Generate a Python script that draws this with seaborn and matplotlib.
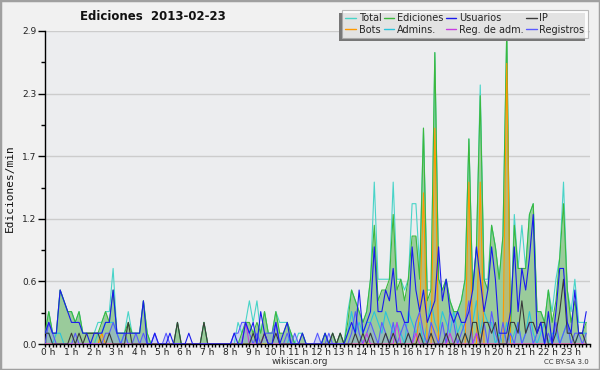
import numpy as np
import pandas as pd
import seaborn as sns
import matplotlib.pyplot as plt
from matplotlib.lines import Line2D
from matplotlib.patches import Rectangle
from matplotlib.ticker import MultipleLocator, AutoMinorLocator, FormatStrFormatter
from matplotlib.transforms import ScaledTranslation

# ediciones por minuto, una muestra cada 10 minutos (144 por día)
total = [
    0.1, 0.3, 0.1, 0.1, 0.5, 0.4, 0.3, 0.3, 0.2, 0.3, 0.1, 0.1,
    0.1, 0.1, 0.2, 0.2, 0.3, 0.3, 0.7, 0.1, 0.1, 0.1, 0.3, 0.1,
    0.1, 0.1, 0.4, 0.1, 0.0, 0.0, 0.0, 0.0, 0.0, 0.0, 0.0, 0.2,
    0.0, 0.0, 0.0, 0.0, 0.0, 0.0, 0.2, 0.0, 0.0, 0.0, 0.0, 0.0,
    0.0, 0.0, 0.0, 0.2, 0.1, 0.2, 0.4, 0.2, 0.4, 0.1, 0.3, 0.1,
    0.1, 0.3, 0.2, 0.2, 0.2, 0.1, 0.0, 0.1, 0.1, 0.0, 0.0, 0.0,
    0.0, 0.0, 0.1, 0.0, 0.1, 0.0, 0.1, 0.0, 0.3, 0.5, 0.4, 0.3,
    0.2, 0.3, 0.6, 1.5, 0.6, 0.6, 0.6, 0.6, 1.5, 0.6, 0.6, 0.5,
    0.6, 1.3, 1.3, 0.7, 2.0, 0.5, 0.5, 2.7, 0.6, 0.5, 0.6, 0.4,
    0.3, 0.3, 0.4, 0.6, 1.9, 0.5, 0.9, 2.4, 0.6, 0.6, 1.1, 0.9,
    0.6, 1.0, 2.9, 0.1, 1.2, 0.7, 1.1, 0.7, 1.2, 1.3, 0.3, 0.3,
    0.2, 0.5, 0.3, 0.6, 0.8, 1.5, 0.5, 0.3, 0.6, 0.2, 0.2, 0.2,
]
ediciones = [
    0.1, 0.3, 0.1, 0.1, 0.5, 0.4, 0.3, 0.3, 0.2, 0.3, 0.1, 0.1,
    0.1, 0.1, 0.1, 0.2, 0.3, 0.2, 0.5, 0.1, 0.1, 0.1, 0.2, 0.1,
    0.1, 0.1, 0.4, 0.1, 0.0, 0.0, 0.0, 0.0, 0.0, 0.0, 0.0, 0.2,
    0.0, 0.0, 0.0, 0.0, 0.0, 0.0, 0.2, 0.0, 0.0, 0.0, 0.0, 0.0,
    0.0, 0.0, 0.0, 0.0, 0.1, 0.2, 0.2, 0.1, 0.2, 0.1, 0.3, 0.1,
    0.1, 0.3, 0.1, 0.1, 0.2, 0.1, 0.0, 0.0, 0.1, 0.0, 0.0, 0.0,
    0.0, 0.0, 0.1, 0.0, 0.1, 0.0, 0.1, 0.0, 0.2, 0.5, 0.4, 0.3,
    0.2, 0.3, 0.6, 1.1, 0.4, 0.5, 0.5, 0.6, 1.2, 0.5, 0.6, 0.4,
    0.6, 1.0, 1.0, 0.6, 2.0, 0.4, 0.5, 2.7, 0.6, 0.5, 0.6, 0.4,
    0.3, 0.3, 0.4, 0.6, 1.9, 0.5, 0.9, 2.3, 0.6, 0.5, 1.1, 0.9,
    0.6, 1.0, 2.9, 0.1, 1.1, 0.7, 0.7, 0.7, 1.2, 1.3, 0.3, 0.3,
    0.2, 0.5, 0.2, 0.4, 0.8, 1.3, 0.5, 0.2, 0.4, 0.1, 0.1, 0.2,
]
usuarios = [
    0.1, 0.2, 0.1, 0.1, 0.5, 0.4, 0.3, 0.2, 0.2, 0.2, 0.1, 0.1,
    0.0, 0.1, 0.1, 0.1, 0.2, 0.2, 0.5, 0.1, 0.1, 0.1, 0.1, 0.1,
    0.1, 0.1, 0.4, 0.0, 0.0, 0.1, 0.0, 0.0, 0.0, 0.1, 0.0, 0.0,
    0.0, 0.0, 0.1, 0.0, 0.0, 0.0, 0.0, 0.0, 0.0, 0.0, 0.0, 0.0,
    0.0, 0.0, 0.1, 0.0, 0.0, 0.2, 0.1, 0.2, 0.0, 0.3, 0.1, 0.0,
    0.0, 0.2, 0.0, 0.1, 0.2, 0.0, 0.0, 0.0, 0.1, 0.0, 0.0, 0.0,
    0.0, 0.0, 0.1, 0.0, 0.0, 0.0, 0.0, 0.0, 0.1, 0.2, 0.1, 0.5,
    0.1, 0.2, 0.3, 0.9, 0.3, 0.3, 0.5, 0.4, 0.7, 0.3, 0.3, 0.2,
    0.2, 0.9, 0.5, 0.3, 0.5, 0.2, 0.3, 0.4, 0.9, 0.4, 0.6, 0.3,
    0.2, 0.3, 0.2, 0.2, 0.3, 0.5, 0.9, 0.6, 0.3, 0.5, 0.9, 0.6,
    0.1, 0.1, 0.1, 0.3, 0.9, 0.3, 0.7, 0.5, 0.8, 1.2, 0.1, 0.2,
    0.0, 0.3, 0.0, 0.3, 0.7, 0.7, 0.2, 0.1, 0.5, 0.1, 0.1, 0.3,
]
ip = [
    0.1, 0.1, 0.0, 0.0, 0.0, 0.0, 0.0, 0.1, 0.0, 0.1, 0.0, 0.1,
    0.1, 0.1, 0.1, 0.0, 0.0, 0.1, 0.0, 0.0, 0.0, 0.0, 0.2, 0.0,
    0.0, 0.0, 0.0, 0.0, 0.0, 0.0, 0.0, 0.0, 0.0, 0.0, 0.0, 0.2,
    0.0, 0.0, 0.0, 0.0, 0.0, 0.0, 0.2, 0.0, 0.0, 0.0, 0.0, 0.0,
    0.0, 0.0, 0.0, 0.0, 0.0, 0.0, 0.0, 0.1, 0.0, 0.0, 0.1, 0.0,
    0.0, 0.1, 0.0, 0.0, 0.0, 0.0, 0.0, 0.0, 0.0, 0.0, 0.0, 0.0,
    0.0, 0.0, 0.0, 0.0, 0.1, 0.0, 0.1, 0.0, 0.0, 0.0, 0.1, 0.0,
    0.1, 0.0, 0.1, 0.0, 0.0, 0.0, 0.1, 0.0, 0.1, 0.0, 0.0, 0.0,
    0.1, 0.0, 0.0, 0.1, 0.0, 0.0, 0.1, 0.0, 0.0, 0.0, 0.1, 0.0,
    0.0, 0.1, 0.0, 0.1, 0.0, 0.2, 0.2, 0.0, 0.2, 0.2, 0.1, 0.2,
    0.0, 0.0, 0.0, 0.2, 0.2, 0.1, 0.4, 0.1, 0.2, 0.2, 0.1, 0.2,
    0.2, 0.0, 0.0, 0.1, 0.3, 0.6, 0.1, 0.1, 0.0, 0.1, 0.1, 0.0,
]
bots = [
    0.0, 0.0, 0.0, 0.0, 0.0, 0.0, 0.0, 0.0, 0.0, 0.0, 0.0, 0.0,
    0.0, 0.0, 0.0, 0.1, 0.0, 0.0, 0.0, 0.0, 0.0, 0.0, 0.0, 0.0,
    0.0, 0.0, 0.0, 0.0, 0.0, 0.0, 0.0, 0.0, 0.0, 0.0, 0.0, 0.0,
    0.0, 0.0, 0.0, 0.0, 0.0, 0.0, 0.0, 0.0, 0.0, 0.0, 0.0, 0.0,
    0.0, 0.0, 0.0, 0.0, 0.0, 0.0, 0.0, 0.0, 0.0, 0.0, 0.0, 0.0,
    0.0, 0.0, 0.0, 0.0, 0.0, 0.0, 0.0, 0.0, 0.0, 0.0, 0.0, 0.0,
    0.0, 0.0, 0.0, 0.0, 0.0, 0.0, 0.0, 0.0, 0.0, 0.0, 0.0, 0.0,
    0.0, 0.0, 0.0, 0.0, 0.0, 0.0, 0.0, 0.0, 0.0, 0.0, 0.0, 0.0,
    0.0, 0.0, 0.0, 0.3, 1.4, 0.0, 0.0, 2.0, 0.0, 0.0, 0.0, 0.0,
    0.0, 0.0, 0.0, 0.0, 1.5, 0.0, 0.0, 1.5, 0.0, 0.0, 0.0, 0.0,
    0.0, 0.0, 2.6, 0.0, 0.0, 0.0, 0.0, 0.0, 0.0, 0.0, 0.0, 0.0,
    0.0, 0.0, 0.0, 0.0, 0.0, 0.0, 0.0, 0.0, 0.0, 0.0, 0.0, 0.0,
]
admins = [
    0.1, 0.1, 0.0, 0.1, 0.1, 0.0, 0.0, 0.0, 0.0, 0.0, 0.0, 0.0,
    0.0, 0.0, 0.1, 0.1, 0.2, 0.2, 0.2, 0.1, 0.0, 0.1, 0.0, 0.0,
    0.0, 0.0, 0.0, 0.0, 0.0, 0.0, 0.0, 0.0, 0.0, 0.0, 0.0, 0.0,
    0.0, 0.0, 0.0, 0.0, 0.0, 0.0, 0.0, 0.0, 0.0, 0.0, 0.0, 0.0,
    0.0, 0.0, 0.0, 0.0, 0.0, 0.0, 0.0, 0.0, 0.0, 0.0, 0.0, 0.0,
    0.0, 0.0, 0.0, 0.0, 0.0, 0.1, 0.0, 0.0, 0.0, 0.0, 0.0, 0.0,
    0.0, 0.0, 0.0, 0.0, 0.0, 0.0, 0.0, 0.0, 0.1, 0.3, 0.1, 0.2,
    0.1, 0.2, 0.2, 0.3, 0.2, 0.1, 0.3, 0.2, 0.1, 0.2, 0.1, 0.0,
    0.3, 0.2, 0.1, 0.2, 0.0, 0.2, 0.4, 0.2, 0.1, 0.3, 0.2, 0.1,
    0.3, 0.1, 0.2, 0.1, 0.0, 0.2, 0.4, 0.1, 0.3, 0.2, 0.2, 0.0,
    0.1, 0.0, 0.2, 0.0, 0.1, 0.2, 0.0, 0.1, 0.3, 0.1, 0.0, 0.1,
    0.2, 0.0, 0.1, 0.1, 0.0, 0.1, 0.2, 0.0, 0.0, 0.1, 0.1, 0.1,
]
reg_adm = [
    0.0, 0.0, 0.0, 0.0, 0.0, 0.0, 0.0, 0.0, 0.0, 0.0, 0.0, 0.0,
    0.0, 0.0, 0.0, 0.0, 0.0, 0.0, 0.0, 0.0, 0.0, 0.0, 0.0, 0.0,
    0.0, 0.0, 0.0, 0.0, 0.0, 0.0, 0.0, 0.0, 0.0, 0.0, 0.0, 0.0,
    0.0, 0.0, 0.0, 0.0, 0.0, 0.0, 0.0, 0.0, 0.0, 0.0, 0.0, 0.0,
    0.0, 0.0, 0.0, 0.0, 0.0, 0.2, 0.0, 0.0, 0.0, 0.0, 0.1, 0.0,
    0.0, 0.0, 0.0, 0.0, 0.0, 0.0, 0.0, 0.0, 0.0, 0.0, 0.0, 0.0,
    0.0, 0.0, 0.0, 0.0, 0.0, 0.0, 0.0, 0.0, 0.0, 0.0, 0.0, 0.0,
    0.0, 0.1, 0.0, 0.0, 0.0, 0.0, 0.0, 0.0, 0.0, 0.2, 0.0, 0.0,
    0.0, 0.0, 0.1, 0.0, 0.0, 0.0, 0.0, 0.0, 0.0, 0.0, 0.0, 0.1,
    0.0, 0.0, 0.0, 0.0, 0.0, 0.0, 0.1, 0.0, 0.0, 0.0, 0.0, 0.0,
    0.0, 0.0, 0.0, 0.0, 0.0, 0.0, 0.0, 0.0, 0.0, 0.0, 0.0, 0.0,
    0.0, 0.0, 0.0, 0.0, 0.0, 0.0, 0.0, 0.0, 0.0, 0.0, 0.0, 0.0,
]
registros = [
    0.0, 0.2, 0.1, 0.0, 0.0, 0.0, 0.0, 0.0, 0.1, 0.0, 0.0, 0.0,
    0.0, 0.0, 0.0, 0.0, 0.1, 0.1, 0.2, 0.1, 0.0, 0.1, 0.0, 0.0,
    0.1, 0.0, 0.1, 0.0, 0.0, 0.1, 0.0, 0.0, 0.1, 0.0, 0.0, 0.0,
    0.0, 0.0, 0.0, 0.0, 0.0, 0.0, 0.0, 0.0, 0.0, 0.0, 0.0, 0.0,
    0.0, 0.0, 0.1, 0.1, 0.2, 0.2, 0.1, 0.0, 0.1, 0.0, 0.1, 0.1,
    0.1, 0.2, 0.0, 0.0, 0.1, 0.0, 0.1, 0.0, 0.0, 0.0, 0.0, 0.0,
    0.1, 0.0, 0.0, 0.1, 0.0, 0.0, 0.0, 0.0, 0.0, 0.1, 0.3, 0.1,
    0.0, 0.1, 0.2, 0.1, 0.0, 0.2, 0.1, 0.0, 0.2, 0.0, 0.1, 0.2,
    0.1, 0.0, 0.2, 0.3, 0.1, 0.0, 0.2, 0.1, 0.0, 0.2, 0.0, 0.3,
    0.2, 0.0, 0.1, 0.2, 0.4, 0.0, 0.1, 0.0, 0.2, 0.0, 0.3, 0.1,
    0.0, 0.2, 0.0, 0.1, 0.0, 0.2, 0.0, 0.1, 0.2, 0.0, 0.1, 0.2,
    0.0, 0.1, 0.0, 0.2, 0.0, 0.1, 0.2, 0.0, 0.1, 0.1, 0.0, 0.1,
]

series = ["Total", "Bots", "Ediciones", "Admins.", "Usuarios", "Reg. de adm.", "IP", "Registros"]
colores = {
    "Total": "#48d4c8", "Ediciones": "#3cb83c", "Usuarios": "#1a1aee", "IP": "#3a3a3a",
    "Bots": "#ff9900", "Admins.": "#2ac4dc", "Reg. de adm.": "#c83ce0", "Registros": "#5a5aff",
}
valores = {
    "Total": total, "Ediciones": ediciones, "Usuarios": usuarios, "IP": ip,
    "Bots": bots, "Admins.": admins, "Reg. de adm.": reg_adm, "Registros": registros,
}
horas = np.arange(len(total)) / 6  # 10 minutos

df = pd.concat([pd.DataFrame({"hora": horas, "valor": v, "serie": k}) for k, v in valores.items()])

sns.set_theme(style="white")
plt.rcParams["font.family"] = ["DejaVu Sans"]

fig = plt.figure(figsize=(6, 3.7), dpi=100)
fig.patch.set_facecolor("#f1f1f1")
ax = fig.add_axes([45 / 600, 26 / 370, 545 / 600, 313 / 370])
ax.set_facecolor("#ecedef")

# relleno de ediciones, bots y registros
ax.fill_between(horas, ediciones, color="#8cc68c", alpha=0.85, lw=0, zorder=1)
ax.fill_between(horas, bots, color="#f0a030", alpha=0.35, lw=0, zorder=1.1)
ax.fill_between(horas, registros, color="#8899ff", alpha=0.3, lw=0, zorder=1.2)

orden_dibujo = ["Total", "Admins.", "Ediciones", "Bots", "Registros", "Reg. de adm.", "IP", "Usuarios"]
for z, s in enumerate(orden_dibujo):
    sns.lineplot(data=df[df["serie"] == s], x="hora", y="valor", color=colores[s],
                 lw=0.8, ax=ax, zorder=2 + z, legend=False)

ax.set_xlim(0, 24)
ax.set_ylim(0, 2.9)
ax.set_xlabel("")
ax.set_ylabel("")
for lado in ["top", "right"]:
    ax.spines[lado].set_visible(False)
for lado in ["left", "bottom"]:
    ax.spines[lado].set_color("black")
    ax.spines[lado].set_linewidth(1)

ax.set_yticks(np.linspace(0, 2.9, 6))
ax.yaxis.set_major_formatter(FormatStrFormatter("%.1f"))
ax.yaxis.set_minor_locator(AutoMinorLocator(2))
ax.set_xticks(range(24))
ax.set_xticklabels([f"{h} h" for h in range(24)])
ax.xaxis.set_minor_locator(MultipleLocator(1 / 6))
ax.tick_params(axis="both", which="both", direction="out", color="black", width=1,
               labelsize=6.5, labelcolor="#222222")
ax.tick_params(axis="y", which="major", length=5, left=True, pad=1)
ax.tick_params(axis="y", which="minor", length=3, left=True)
ax.tick_params(axis="x", which="both", length=2.5, bottom=True, pad=0.5)
desplaza = ScaledTranslation(2.4 / 72, 0, fig.dpi_scale_trans)
for lab in ax.get_xticklabels():
    lab.set_transform(lab.get_transform() + desplaza)

ax.grid(axis="y", color="#cccccc", lw=1)
ax.grid(axis="x", visible=False)
ax.set_axisbelow(True)

fig.text(153 / 600, 1 - 16 / 370, "Ediciones  2013-02-23", ha="center", va="center",
         fontsize=8.5, fontweight="bold", color="#111111")
fig.text(10 / 600, 1 - 188 / 370, "Ediciones/min", rotation=90, ha="center", va="center",
         fontsize=8, family="DejaVu Sans Mono", color="#111111")
fig.text(300 / 600, 1 - 361 / 370, "wikiscan.org", ha="center", va="center",
         fontsize=6.5, color="#333333")
fig.text(589 / 600, 1 - 362 / 370, "CC BY-SA 3.0", ha="right", va="center",
         fontsize=5, color="#333333")

handles = [Line2D([], [], color=colores[s], lw=1) for s in series]
leg = fig.legend(handles, series, ncol=4, loc="upper right",
                 bbox_to_anchor=(588 / 600, 1 - 10 / 370), fontsize=7,
                 frameon=True, fancybox=False, shadow=False,
                 handlelength=1.1, handletextpad=0.3, columnspacing=0.2,
                 borderpad=0.35, labelspacing=0.15, borderaxespad=0)
leg.get_frame().set_edgecolor("#aaaaaa")
leg.get_frame().set_facecolor("white")
leg.get_frame().set_linewidth(0.8)
leg.set_zorder(10)

# sombra de la leyenda (hacia abajo a la izquierda)
fig.canvas.draw()
bb = leg.get_window_extent()
fig.add_artist(Rectangle((bb.x0 - 3, bb.y0 - 3), bb.width, bb.height, transform=None,
                         fc="#777777", ec="none", zorder=9))

fig.add_artist(Rectangle((0, 0), 1, 1, transform=fig.transFigure, fill=False,
                         ec="#a0a0a0", lw=2.5))

fig.savefig("out.png", dpi=100, facecolor=fig.get_facecolor())
